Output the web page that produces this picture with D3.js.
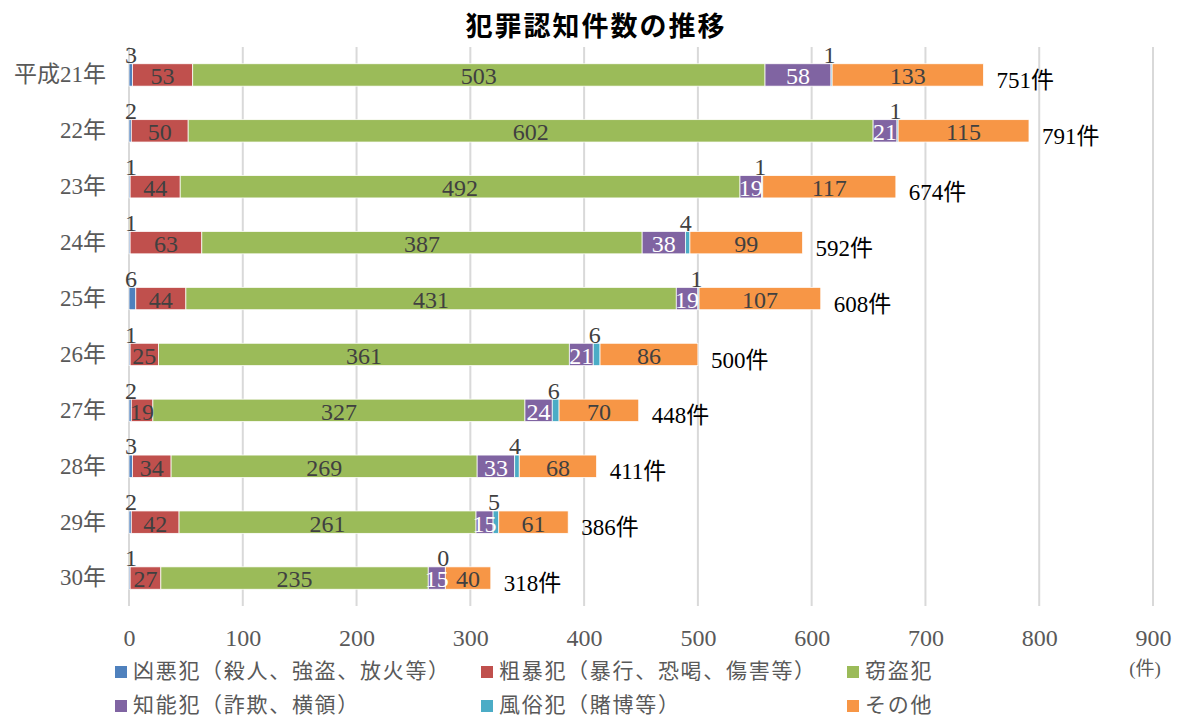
<!DOCTYPE html>
<html>
<head>
<meta charset="utf-8">
<script src="https://cdn.jsdelivr.net/npm/d3@7"></script>
<style>
  html, body { margin: 0; padding: 0; background: #fff; }
  svg text { font-family: "Liberation Serif", "Noto Sans CJK JP", serif; }
</style>
</head>
<body>
<svg id="chart" width="1178" height="717"></svg>
<script>
// Years (rows, top to bottom)
const years = ["平成21年", "22年", "23年", "24年", "25年", "26年", "27年", "28年", "29年", "30年"];

// Crime categories, stacked left to right
const categories = ["凶悪犯（殺人、強盗、放火等）", "粗暴犯（暴行、恐喝、傷害等）", "窃盗犯", "知能犯（詐欺、横領）", "風俗犯（賭博等）", "その他"];

// Counts per category per year
const violent   = [3, 2, 1, 1, 6, 1, 2, 3, 2, 1];
const assault   = [53, 50, 44, 63, 44, 25, 19, 34, 42, 27];
const theft     = [503, 602, 492, 387, 431, 361, 327, 269, 261, 235];
const fraud     = [58, 21, 19, 38, 19, 21, 24, 33, 15, 15];
const morals    = [1, 1, 1, 4, 1, 6, 6, 4, 5, 0];
const other     = [133, 115, 117, 99, 107, 86, 70, 68, 61, 40];

const xTicks = [0, 100, 200, 300, 400, 500, 600, 700, 800, 900];

const colors = ["#4F81BD", "#C0504D", "#9BBB59", "#8064A2", "#4BACC6", "#F79646"];

const series = [violent, assault, theft, fraud, morals, other];
const rows = years.map((yr, i) => {
  const r = { year: yr };
  categories.forEach((c, k) => { r[c] = series[k][i]; });
  r.total = series.reduce((s, arr) => s + arr[i], 0);
  return r;
});

const svg = d3.select("#chart");
const plotLeft = 129, plotRight = 1153, plotTop = 47, plotBottom = 606;

const x = d3.scaleLinear().domain([0, 900]).range([plotLeft, plotRight]);
const y = d3.scaleBand().domain(years).range([plotTop, plotBottom]).paddingInner(0.6).paddingOuter(0.3);

// Title
svg.append("text")
  .attr("x", 596).attr("y", 36)
  .attr("text-anchor", "middle")
  .style("font-family", "'Noto Sans CJK JP', sans-serif")
  .style("font-weight", "bold")
  .style("font-size", "27px")
  .style("letter-spacing", "2px")
  .attr("fill", "#000")
  .text("犯罪認知件数の推移");

// Vertical gridlines
svg.append("g").selectAll("line").data(xTicks).join("line")
  .attr("x1", d => x(d)).attr("x2", d => x(d))
  .attr("y1", plotTop).attr("y2", plotBottom)
  .attr("stroke", "#D9D9D9").attr("stroke-width", 2);

// X axis labels
const xAxis = d3.axisBottom(x).tickValues(xTicks).tickSize(0).tickPadding(0);
const gx = svg.append("g").attr("transform", `translate(0, 638)`).call(xAxis);
gx.select(".domain").remove();
gx.selectAll("text")
  .attr("dy", "0.35em")
  .style("font-size", "24px")
  .attr("fill", "#595959");

// Unit label
svg.append("text")
  .attr("x", x(900) - 8).attr("y", 668)
  .attr("dy", "0.35em")
  .attr("text-anchor", "middle")
  .style("font-size", "19px")
  .attr("fill", "#595959")
  .text("(件)");

// Y axis labels
const yAxis = d3.axisLeft(y).tickSize(0).tickPadding(0);
const gy = svg.append("g").attr("transform", `translate(${plotLeft - 23}, 0)`).call(yAxis);
gy.select(".domain").remove();
gy.selectAll("text")
  .style("font-size", "23px")
  .attr("fill", "#595959");

// Stacked bars
const stack = d3.stack().keys(categories)(rows);
const layers = svg.append("g").selectAll("g").data(stack).join("g")
  .attr("fill", (d, i) => colors[i]);
layers.selectAll("rect").data(d => d).join("rect")
  .attr("x", d => x(d[0]))
  .attr("y", d => y(d.data.year))
  .attr("width", d => x(d[1]) - x(d[0]))
  .attr("height", y.bandwidth())
  .attr("stroke", "#fff").attr("stroke-width", 0.75);

// Value labels
const fs = 24;
stack.forEach((layer, k) => {
  const g = svg.append("g");
  layer.forEach(d => {
    const v = d[1] - d[0];
    const cy = y(d.data.year) + y.bandwidth() / 2;
    let tx = (x(d[0]) + x(d[1])) / 2, ty = cy + 1, fill = "#404040";
    if (k === 0) { tx = x(d[0]) + 2; ty = y(d.data.year) - 9; }
    if (k === 4) { tx = (x(d[0]) + x(d[1])) / 2 - 2; ty = y(d.data.year) - 9; }
    if (k === 3) fill = "#fff";
    g.append("text")
      .attr("x", tx).attr("y", ty)
      .attr("dy", "0.35em")
      .attr("text-anchor", "middle")
      .style("font-size", fs + "px")
      .attr("fill", fill)
      .text(v);
  });
});

// Totals
svg.append("g").selectAll("text").data(rows).join("text")
  .attr("x", d => x(d.total) + 13)
  .attr("y", d => y(d.year) + y.bandwidth() / 2 + 5)
  .attr("dy", "0.35em")
  .style("font-size", "23px")
  .attr("fill", "#000")
  .text(d => d.total + "件");

// Legend
const legendPos = [[115, 671], [481, 671], [847, 671], [115, 705], [481, 705], [847, 705]];
const lg = svg.append("g");
categories.forEach((c, i) => {
  const [lx, ly] = legendPos[i];
  lg.append("rect").attr("x", lx).attr("y", ly - 5).attr("width", 12).attr("height", 12).attr("fill", colors[i]);
  lg.append("text").attr("x", lx + 18).attr("y", ly).attr("dy", "0.35em")
    .style("font-size", "21px").style("letter-spacing", "1.7px")
    .attr("fill", "#595959").text(c);
});
</script>
</body>
</html>
